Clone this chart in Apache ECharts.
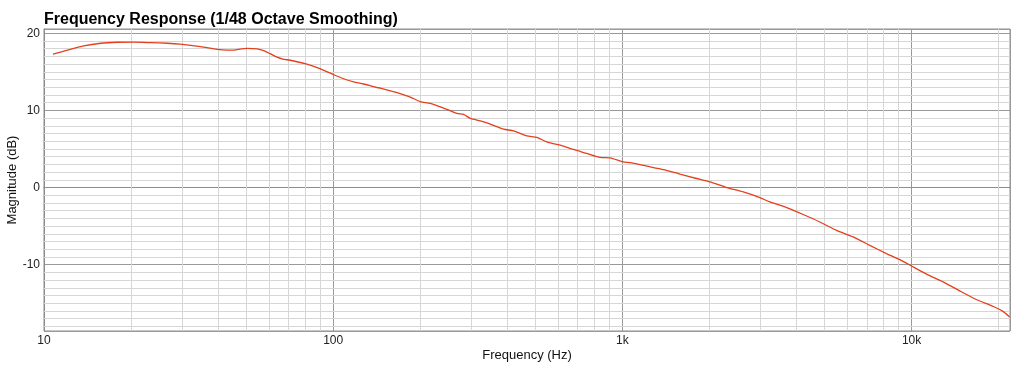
<!DOCTYPE html>
<html>
<head>
<meta charset="utf-8">
<script src="https://cdn.jsdelivr.net/npm/echarts@6/dist/echarts.min.js"></script>
<style>
html,body{margin:0;padding:0;background:#fff;}
#chart{width:1029px;height:369px;}
</style>
</head>
<body>
<div id="chart"></div>
<script>
// Frequency (Hz) and magnitude (dB)
const freqs = [10.74, 12.05, 13.7, 15.7, 17.9, 20.5, 23.4, 26.7, 29.6, 34.8, 39.7, 43.0, 45.3, 50.4, 54.6, 57.5, 60.5, 64, 67, 71, 80, 90, 100,
  111.7, 117.8, 127.4, 141.8, 145.5, 166.2, 184.8, 200, 216.7, 247.4, 267.9, 282.4, 298, 322.5, 340, 388, 420, 467.6, 505.9, 548, 625.6, 677,
  753.5, 837.5, 907, 1008, 1063, 1215, 1387, 1582, 1807, 2009, 2294, 2618, 2989, 3236, 3698, 4220, 4818, 5503, 6282, 7172, 8187, 9346,
  10000, 11306, 12900, 14720, 16810, 19190, 20710, 21840];
const mags = [17.3, 17.8, 18.35, 18.7, 18.83, 18.85, 18.78, 18.7, 18.58, 18.26, 17.9, 17.8, 17.82, 18.05, 17.98, 17.75, 17.35, 16.9, 16.65, 16.5, 16.05, 15.4, 14.65,
  13.94, 13.7, 13.42, 12.96, 12.9, 12.29, 11.72, 11.15, 10.9, 10.13, 9.61, 9.48, 8.96, 8.65, 8.39, 7.57, 7.35, 6.7, 6.49, 5.92, 5.36, 4.93,
  4.42, 3.9, 3.84, 3.32, 3.22, 2.77, 2.33, 1.73, 1.17, 0.73, 0.0, -0.57, -1.3, -1.87, -2.6, -3.5, -4.47, -5.55, -6.4, -7.5, -8.57, -9.57,
  -10.18, -11.26, -12.26, -13.43, -14.55, -15.42, -16.06, -16.8];

const xTickValues = [10, 100, 1000, 10000];
const xTickLabels = ['10', '100', '1k', '10k'];
const yTickValues = [-10, 0, 10, 20];
const yTickLabels = ['-10', '0', '10', '20'];

const xMin = 10, xMax = 21900;
const yMin = -18.6, yMax = 20.55;

const pts = freqs.map((f, i) => [f, mags[i]]);

// minor grid positions
const minorX = [];
for (let d = 10; d < xMax; d *= 10) {
  for (let k = 2; k <= 9; k++) { const v = d * k; if (v < xMax) minorX.push(v); }
}
const minorY = [];
for (let v = Math.ceil(yMin); v <= Math.floor(yMax); v++) { if (v % 10 !== 0) minorY.push(v); }

const font = 'Liberation Sans, Arial, Helvetica, sans-serif';
const chart = echarts.init(document.getElementById('chart'), null, {renderer: 'canvas'});
chart.setOption({
  animation: false,
  backgroundColor: '#ffffff',
  title: {
    text: 'Frequency Response (1/48 Octave Smoothing)',
    left: 39, top: 7,
    textStyle: {fontFamily: font, fontSize: 16, fontWeight: 'bold', color: '#000'}
  },
  grid: {left: 44, right: 19, top: 29, bottom: 38, show: true, borderColor: '#8c8c8c', borderWidth: 1,
    containLabel: false, outerBoundsMode: 'none'},
  xAxis: {
    type: 'log', logBase: 10, min: xMin, max: xMax,
    name: 'Frequency (Hz)', nameLocation: 'middle', nameGap: 18, nameMoveOverlap: false,
    nameTextStyle: {fontFamily: font, fontSize: 13, color: '#111'},
    axisLine: {show: true, lineStyle: {color: '#8c8c8c', width: 1}},
    axisTick: {show: false},
    axisLabel: {
      fontFamily: font, fontSize: 12, color: '#222', margin: 4,
      formatter: function (v) {
        const i = xTickValues.findIndex(t => Math.abs(t - v) / t < 1e-6);
        return i >= 0 ? xTickLabels[i] : '';
      }
    },
    splitLine: {show: true, lineStyle: {color: '#9a9a9a', width: 1}}
  },
  yAxis: {
    type: 'value', min: yMin, max: yMax,
    name: 'Magnitude (dB)', nameLocation: 'middle', nameGap: 25, nameRotate: 90, nameMoveOverlap: false,
    nameTextStyle: {fontFamily: font, fontSize: 13, color: '#111'},
    axisLine: {show: true, lineStyle: {color: '#8c8c8c', width: 1}},
    axisTick: {show: false},
    axisLabel: {
      fontFamily: font, fontSize: 12, color: '#222', margin: 4,
      formatter: function (v) {
        const i = yTickValues.findIndex(t => Math.abs(t - v) < 1e-6);
        return i >= 0 ? yTickLabels[i] : '';
      }
    },
    splitLine: {show: true, lineStyle: {color: '#9a9a9a', width: 1}}
  },
  series: [
    {
      name: 'grid', type: 'line', z: 1, silent: true, data: pts, showSymbol: false,
      lineStyle: {opacity: 0}, tooltip: {show: false},
      markLine: {
        silent: true, symbol: 'none', animation: false, z: 1,
        label: {show: false},
        lineStyle: {color: '#d6d6d6', width: 1, type: 'solid'},
        emphasis: {disabled: true},
        data: minorX.map(v => ({xAxis: v})).concat(minorY.map(v => ({yAxis: v})))
      }
    },
    {
      name: 'Magnitude', type: 'line', z: 3, data: pts, showSymbol: false, smooth: 0.2,
      lineStyle: {color: '#e5401d', width: 1.3}, itemStyle: {color: '#e5401d'}
    }
  ]
});
</script>
</body>
</html>
